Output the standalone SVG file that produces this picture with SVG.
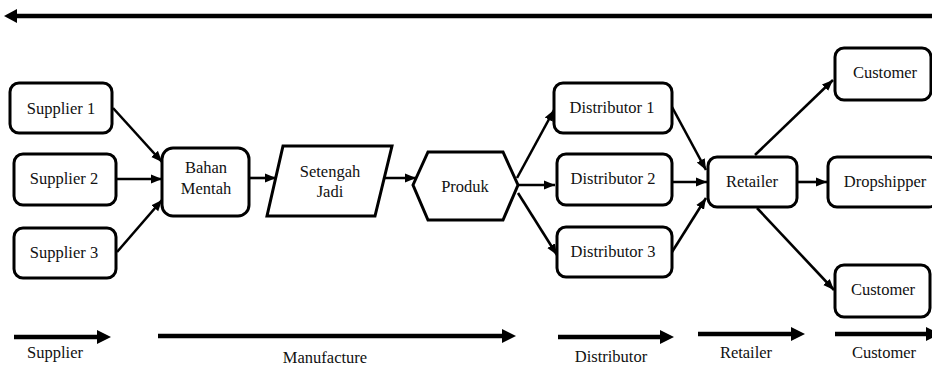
<svg xmlns="http://www.w3.org/2000/svg" width="932" height="369" viewBox="0 0 932 369">
<defs>
<marker id="ah" markerUnits="userSpaceOnUse" markerWidth="12" markerHeight="12" viewBox="0 0 12 12" refX="11" refY="6" orient="auto">
<path d="M0,1.5 L11,6 L0,10.5 Z" fill="#000"/>
</marker>
</defs>
<style>
.box{fill:#fff;stroke:#000;stroke-width:3}
text{font-family:'Liberation Serif','DejaVu Serif',serif;font-size:16.5px;fill:#111;text-anchor:middle}
.c{fill:none;stroke:#000;stroke-width:2.6}
.b{fill:none;stroke:#000;stroke-width:4.5}
.h{fill:#000}
</style>
<g id="connectors">
<path class="b" d="M932,16 L16,16"/><path class="h" d="M4,16 L17,9 L17,23 Z"/>
<path class="c" d="M113,108 L162,162" marker-end="url(#ah)"/>
<path class="c" d="M116,179 L162,179" marker-end="url(#ah)"/>
<path class="c" d="M117,252 L162,200" marker-end="url(#ah)"/>
<path class="c" d="M249,178 L276,178" marker-end="url(#ah)"/>
<path class="c" d="M383,178 L416,178" marker-end="url(#ah)"/>
<path class="c" d="M517,178 L554,110" marker-end="url(#ah)"/>
<path class="c" d="M519,185 L555,185" marker-end="url(#ah)"/>
<path class="c" d="M518,193 L557,255" marker-end="url(#ah)"/>
<path class="c" d="M672,107 L706,170" marker-end="url(#ah)"/>
<path class="c" d="M672,182 L707,182" marker-end="url(#ah)"/>
<path class="c" d="M672,252 L706,198" marker-end="url(#ah)"/>
<path class="c" d="M755,155 L833,80" marker-end="url(#ah)"/>
<path class="c" d="M797,182 L827,182" marker-end="url(#ah)"/>
<path class="c" d="M757,208 L834,290" marker-end="url(#ah)"/>
<path class="b" d="M14,337 L99,337"/><path class="h" d="M111,337 L97,330 L97,344 Z"/>
<path class="b" d="M158,336 L504,336"/><path class="h" d="M516,336 L502,329 L502,343 Z"/>
<path class="b" d="M558,337 L662,337"/><path class="h" d="M674,337 L660,330 L660,344 Z"/>
<path class="b" d="M698,334 L793,334"/><path class="h" d="M805,334 L791,327 L791,341 Z"/>
<path class="b" d="M835,334 L932,334"/><path class="h" d="M940,334 L926,327 L926,341 Z"/>
</g>
<g id="supplier1"><rect class="box" x="10" y="83" width="102" height="50" rx="9"/><text x="61" y="114">Supplier 1</text></g>
<g id="supplier2"><rect class="box" x="14" y="154" width="102" height="51" rx="9"/><text x="64" y="184">Supplier 2</text></g>
<g id="supplier3"><rect class="box" x="14" y="228" width="102" height="50" rx="9"/><text x="64" y="258">Supplier 3</text></g>
<g id="bahan"><rect class="box" x="162" y="148" width="87" height="68" rx="11"/><text x="206" y="173">Bahan</text><text x="206" y="194">Mentah</text></g>
<g id="setengah"><path class="box" d="M283,146 L392,146 L375,216 L267,216 Z"/><text x="330" y="177">Setengah</text><text x="330" y="197">Jadi</text></g>
<g id="produk"><path class="box" d="M413,185 L428,152 L503,152 L518,185 L503,220 L428,220 Z"/><text x="465" y="192">Produk</text></g>
<g id="distributor1"><rect class="box" x="554" y="83" width="118" height="50" rx="9"/><text x="612" y="113">Distributor 1</text></g>
<g id="distributor2"><rect class="box" x="557" y="154" width="115" height="51" rx="9"/><text x="613" y="184">Distributor 2</text></g>
<g id="distributor3"><rect class="box" x="557" y="227" width="115" height="50" rx="9"/><text x="613" y="257">Distributor 3</text></g>
<g id="retailer"><rect class="box" x="708" y="157" width="89" height="50" rx="9"/><text x="752" y="187">Retailer</text></g>
<g id="customer1"><rect class="box" x="835" y="48" width="96" height="52" rx="9"/><text x="885" y="78">Customer</text></g>
<g id="dropshipper"><rect class="box" x="828" y="157" width="110" height="50" rx="9"/><text x="885" y="187">Dropshipper</text></g>
<g id="customer2"><rect class="box" x="835" y="265" width="95" height="52" rx="9"/><text x="883" y="295">Customer</text></g>
<g id="labels">
<text x="55" y="358">Supplier</text>
<text x="325" y="363">Manufacture</text>
<text x="611" y="362">Distributor</text>
<text x="746" y="358">Retailer</text>
<text x="884" y="358">Customer</text>
</g>
</svg>
